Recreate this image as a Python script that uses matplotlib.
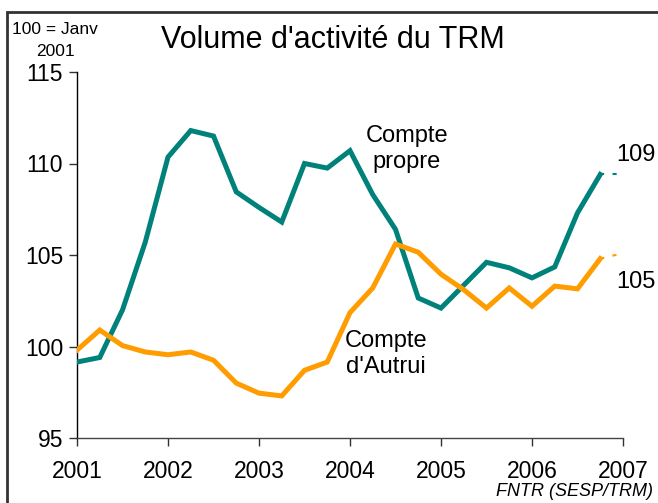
import matplotlib
matplotlib.use("Agg")
import matplotlib.pyplot as plt
from matplotlib.patches import Rectangle
import numpy as np

plt.rcParams['font.family'] = ['Liberation Sans', 'DejaVu Sans']

# Quarterly data, 2001 Q1 .. 2006 Q4 (index 100 = Janv 2001)
quarters = [2001 + i * 0.25 for i in range(24)]
compte_propre = [99.15, 99.4, 102.0, 105.7, 110.35, 111.8, 111.5, 108.45,
                 107.6, 106.8, 110.0, 109.75, 110.7, 108.3, 106.4, 102.65,
                 102.1, 103.35, 104.6, 104.3, 103.75, 104.35, 107.3, 109.4]
compte_autrui = [99.8, 100.9, 100.05, 99.7, 99.55, 99.7, 99.25, 98.0,
                 97.45, 97.3, 98.7, 99.15, 101.85, 103.2, 105.6, 105.15,
                 103.95, 103.1, 102.1, 103.2, 102.2, 103.3, 103.15, 104.8]
ext_x = [2006.75, 2007.0]
ext_propre = [109.4, 109.4]
ext_autrui = [104.8, 105.1]
years = [2001, 2002, 2003, 2004, 2005, 2006, 2007]
yticks = [95, 100, 105, 110, 115]

teal = '#00817A'
orange = '#FF9C00'

W, H = 658, 503
fig = plt.figure(figsize=(W / 100, H / 100), dpi=100)
ax = fig.add_axes([77 / W, 1 - 438 / H, (623 - 77) / W, (438 - 72) / H])

ax.plot(quarters, compte_propre, color=teal, lw=3.6, solid_joinstyle='miter', zorder=3)
ax.plot(quarters, compte_autrui, color=orange, lw=3.6, solid_joinstyle='miter', zorder=3)
ax.plot(ext_x, ext_propre, color=teal, lw=1.5, linestyle=(0, (2, 4)))
ax.plot(ext_x, ext_autrui, color=orange, lw=1.5, linestyle=(0, (2, 4)))

ax.set_xlim(2001, 2007)
ax.set_ylim(95, 115)
ax.set_xticks(years)
ax.set_xticklabels([str(y) for y in years])
ax.set_yticks(yticks)
ax.set_yticklabels([str(v) for v in yticks])
ax.tick_params(axis='both', labelsize=16.5, length=6, width=1, direction='out', color='#333333')
ax.tick_params(axis='x', pad=10)
ax.tick_params(axis='y', pad=4)
for s in ['top', 'right']:
    ax.spines[s].set_visible(False)
ax.spines['left'].set_color('black')
ax.spines['bottom'].set_color('#444444')
ax.spines['left'].set_linewidth(1)
ax.spines['bottom'].set_linewidth(1)
ax.patch.set_alpha(0)

# outer frame
fig.patches.append(Rectangle((7 / W, -0.05), 1.2, 1 - 12 / H + 0.05, transform=fig.transFigure,
                             fill=False, edgecolor='#333333', lw=2))

fig.text(333 / W, 1 - 40 / H, "Volume d'activité du TRM", fontsize=22, ha='center', va='center')
fig.text(12 / W, 1 - 29 / H, "100 = Janv", fontsize=12.5, ha='left', va='center')
fig.text(55 / W, 1 - 52 / H, "2001", fontsize=12.5, ha='center', va='center')
fig.text(653 / W, 1 - 492 / H, "FNTR (SESP/TRM)", fontsize=13, style='italic', ha='right', va='center')

ax.annotate("Compte\npropre", xy=(407 / W, 1 - 149 / H), xycoords='figure fraction',
            fontsize=17, ha='center', va='center', linespacing=1.2)
ax.annotate("Compte\nd'Autrui", xy=(386 / W, 1 - 354 / H), xycoords='figure fraction',
            fontsize=17, ha='center', va='center', linespacing=1.2)
ax.annotate("109", xy=(636 / W, 1 - 155 / H), xycoords='figure fraction',
            fontsize=17, ha='center', va='center')
ax.annotate("105", xy=(636 / W, 1 - 282 / H), xycoords='figure fraction',
            fontsize=17, ha='center', va='center')

fig.savefig('out.png', dpi=100)
